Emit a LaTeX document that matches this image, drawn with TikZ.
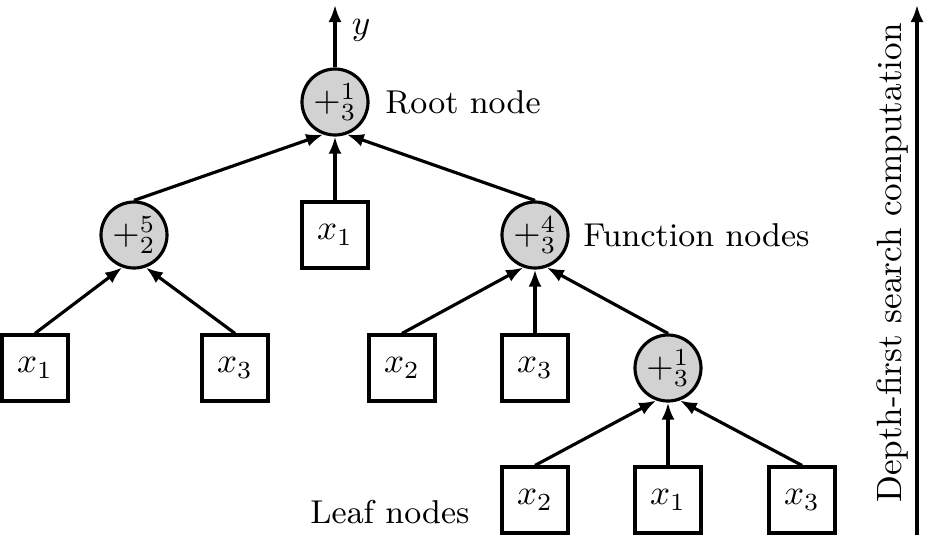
\documentclass[tikz,border=0pt]{standalone}
\usetikzlibrary{positioning,arrows.meta}
\tikzset{
  fnode/.style={draw,circle,line width=0.9pt,fill=gray!35,minimum size=0.66cm,inner sep=0pt},
  leaf/.style={draw,rectangle,line width=0.9pt,fill=white,minimum size=0.66cm,inner sep=0pt},
  edge/.style={line width=0.9pt,-{Latex[length=1.7mm,width=1.3mm]}},
  lbl/.style={font=\fontsize{9.4}{11}\selectfont}
}
\begin{document}
\begin{tikzpicture}
\useasboundingbox (0,0) rectangle (9.41,5.39);
% function nodes
\node[fnode] (root) at (3.35,4.37) {$+_3^1$};
\node[fnode] (fa) at (1.34,3.04) {$+_2^5$};
\node[fnode] (fb) at (5.35,3.04) {$+_3^4$};
\node[fnode] (fc) at (6.68,1.71) {$+_3^1$};
% leaf nodes
\node[leaf] (la) at (3.35,3.04) {$x_1$};
\node[leaf] (lb) at (0.35,1.71) {$x_1$};
\node[leaf] (lc) at (2.35,1.71) {$x_3$};
\node[leaf] (ld) at (4.02,1.71) {$x_2$};
\node[leaf] (le) at (5.35,1.71) {$x_3$};
\node[leaf] (lf) at (5.35,0.39) {$x_2$};
\node[leaf] (lg) at (6.68,0.39) {$x_1$};
\node[leaf] (lh) at (8.02,0.39) {$x_3$};
% edges
\coordinate (top) at (3.35,5.34);
\draw[edge] (root.north) -- (top) node[pos=0.6,right=1pt]{$y$};
\draw[edge] (fa.north) -- (root.250);
\draw[edge] (la.north) -- (root.south);
\draw[edge] (fb.north) -- (root.290);
\draw[edge] (lb.north) -- (fa.250);
\draw[edge] (lc.north) -- (fa.290);
\draw[edge] (ld.north) -- (fb.250);
\draw[edge] (le.north) -- (fb.south);
\draw[edge] (fc.north) -- (fb.290);
\draw[edge] (lf.north) -- (fc.250);
\draw[edge] (lg.north) -- (fc.south);
\draw[edge] (lh.north) -- (fc.290);
% labels
\node[lbl,anchor=west] (rootlbl) at (3.73,4.37) {Root node};
\node[lbl,anchor=west] (fnlbl) at (5.71,3.04) {Function nodes};
\node[lbl,anchor=east] (leaflbl) at (4.82,0.27) {Leaf nodes};
% search direction
\coordinate (dfsa) at (9.17,0.04);
\coordinate (dfsb) at (9.17,5.34);
\draw[edge] (dfsa) -- (dfsb);
\node[rotate=90] (dfslbl) at (8.93,2.76) {Depth-first search computation};
\end{tikzpicture}
\end{document}
